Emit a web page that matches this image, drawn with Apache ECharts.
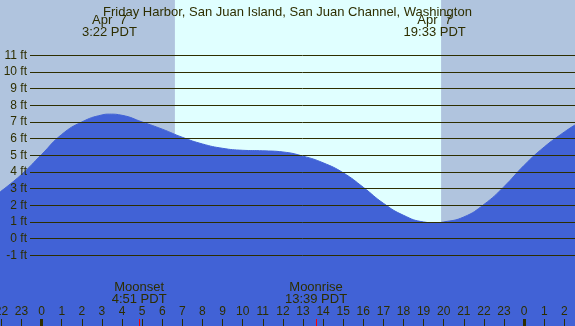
<!DOCTYPE html>
<html>
<head>
<meta charset="utf-8">
<script src="https://cdn.jsdelivr.net/npm/echarts@6/dist/echarts.min.js"></script>
<style>html,body{margin:0;padding:0;background:#e0ffff}#c{width:575px;height:326px}</style>
</head>
<body>
<div id="c"></div>
<script>
// ---- data ----
const titleText = 'Friday Harbor, San Juan Island, San Juan Channel, Washington';
const hours   = [-2.07, -1, 0, 1, 2, 3, 3.37, 4, 5, 6, 7, 8, 9, 10, 11, 12, 13, 14, 15, 16, 17, 18, 19, 19.55, 20, 21, 22, 23, 24, 25, 26, 26.53];
const heights = [2.8, 3.85, 5.05, 6.25, 7.0, 7.42, 7.47, 7.4, 7.0, 6.57, 6.08, 5.68, 5.42, 5.3, 5.27, 5.2, 4.95, 4.55, 3.95, 3.08, 2.12, 1.4, 1.0, 0.95, 1.0, 1.3, 2.05, 3.12, 4.4, 5.5, 6.4, 6.82];
const hourTicks = [-2,-1,0,1,2,3,4,5,6,7,8,9,10,11,12,13,14,15,16,17,18,19,20,21,22,23,24,25,26];
const midnights = [0, 24];
const sunrise = 6.63, sunset = 19.87;
const tideEvents = [
  { h: 3.37, date: 'Apr  7', time: '3:22 PDT' },
  { h: 19.55, date: 'Apr  7', time: '19:33 PDT' }
];
const moonEvents = [
  { h: 4.85, name: 'Moonset', time: '4:51 PDT' },
  { h: 13.65, name: 'Moonrise', time: '13:39 PDT' }
];
const ftMin = -1, ftMax = 11;
const xMin = -2.07, xMax = 26.53;

// ---- layout ----
const W = 575, H = 326;
const gTop = 55.3, gBottom = 70.7;
const pxPerFt = (H - gTop - gBottom) / (ftMax - ftMin);
const yMinFull = ftMin - gBottom / pxPerFt;
const yMaxFull = ftMax + gTop / pxPerFt;
const tickLen = 7;
const tickVal = tickLen / pxPerFt;

const ink = '#2e2e00';
const nightColor = '#b0c4de';
const dayColor = '#e0ffff';
const waterColor = '#4162d6';
const fontFam = '"Liberation Sans", Arial, sans-serif';

const data = hours.map((h, i) => [h, heights[i]]);

const chart = echarts.init(document.getElementById('c'), null, { renderer: 'canvas' });

const option = {
  backgroundColor: dayColor,
  animation: false,
  title: {
    text: titleText, left: 'center', top: 1,
    textStyle: { fontSize: 13, fontWeight: 'normal', color: ink, fontFamily: fontFam }
  },
  grid: [
    { left: 0, right: 0, top: 0, bottom: 0, containLabel: false, outerBoundsMode: 'none' },
    { left: 30, right: 0, top: gTop, bottom: gBottom, containLabel: false, outerBoundsMode: 'none' }
  ],
  xAxis: [
    {
      gridIndex: 0, type: 'value', min: xMin, max: xMax, position: 'bottom',
      axisLine: { show: false, onZero: false },
      splitLine: { show: false },
      axisTick: { show: true, inside: true, length: tickLen, customValues: hourTicks, lineStyle: { color: ink, width: 1 } },
      axisLabel: {
        show: true, inside: true, margin: 8, customValues: hourTicks,
        formatter: v => String(((Math.round(v) % 24) + 24) % 24),
        color: ink, fontSize: 12, fontFamily: fontFam
      },
      z: 10
    },
    { gridIndex: 1, type: 'value', min: xMin, max: xMax, show: false }
  ],
  yAxis: [
    { gridIndex: 0, type: 'value', min: yMinFull, max: yMaxFull, show: false },
    {
      gridIndex: 1, type: 'value', min: ftMin, max: ftMax, interval: 1,
      axisLine: { show: false }, axisTick: { show: false },
      splitLine: { show: true, lineStyle: { color: ink, width: 1 } },
      axisLabel: { formatter: v => v + ' ft', margin: 3, color: ink, fontSize: 12, fontFamily: fontFam },
      z: 10
    }
  ],
  series: [
    {
      type: 'line', xAxisIndex: 0, yAxisIndex: 0, z: 1,
      data: [], symbol: 'none', silent: true,
      markArea: {
        silent: true,
        itemStyle: { color: nightColor, borderWidth: 0 },
        data: [
          [{ xAxis: xMin }, { xAxis: sunrise }],
          [{ xAxis: sunset }, { xAxis: xMax }]
        ]
      }
    },
    {
      type: 'line', xAxisIndex: 0, yAxisIndex: 0, z: 2,
      data: data, smooth: 0.5, symbol: 'none',
      lineStyle: { color: waterColor, width: 1 },
      areaStyle: { color: waterColor, opacity: 1, origin: 'start' }
    },
    {
      type: 'line', xAxisIndex: 0, yAxisIndex: 0, z: 12,
      data: [], symbol: 'none',
      markLine: {
        silent: true, symbol: 'none', label: { show: false },
        data: midnights.map(h => [
          { coord: [h, yMinFull], lineStyle: { color: ink, width: 3, type: 'solid' } },
          { coord: [h, yMinFull + tickVal] }
        ]).concat(moonEvents.map(m => [
          { coord: [m.h, yMinFull], lineStyle: { color: '#ff0000', width: 1, type: 'solid' } },
          { coord: [m.h, yMinFull + tickVal] }
        ]))
      }
    }
  ]
};
chart.setOption(option);

// text labels positioned through the chart's own x scale
const graphics = [];
tideEvents.forEach(e => {
  const x = chart.convertToPixel({ gridIndex: 0 }, [e.h, 0])[0];
  graphics.push({ type: 'text', x: x, y: 20.5, z: 20, style: { text: e.date, fill: ink, font: '13px ' + fontFam, textAlign: 'center', textVerticalAlign: 'middle' } });
  graphics.push({ type: 'text', x: x, y: 32, z: 20, style: { text: e.time, fill: ink, font: '13px ' + fontFam, textAlign: 'center', textVerticalAlign: 'middle' } });
});
moonEvents.forEach(m => {
  const x = chart.convertToPixel({ gridIndex: 0 }, [m.h, 0])[0];
  graphics.push({ type: 'text', x: x, y: 287.5, z: 20, style: { text: m.name, fill: ink, font: '13px ' + fontFam, textAlign: 'center', textVerticalAlign: 'middle' } });
  graphics.push({ type: 'text', x: x, y: 299.5, z: 20, style: { text: m.time, fill: ink, font: '13px ' + fontFam, textAlign: 'center', textVerticalAlign: 'middle' } });
});
chart.setOption({ graphic: graphics });
</script>
</body>
</html>
